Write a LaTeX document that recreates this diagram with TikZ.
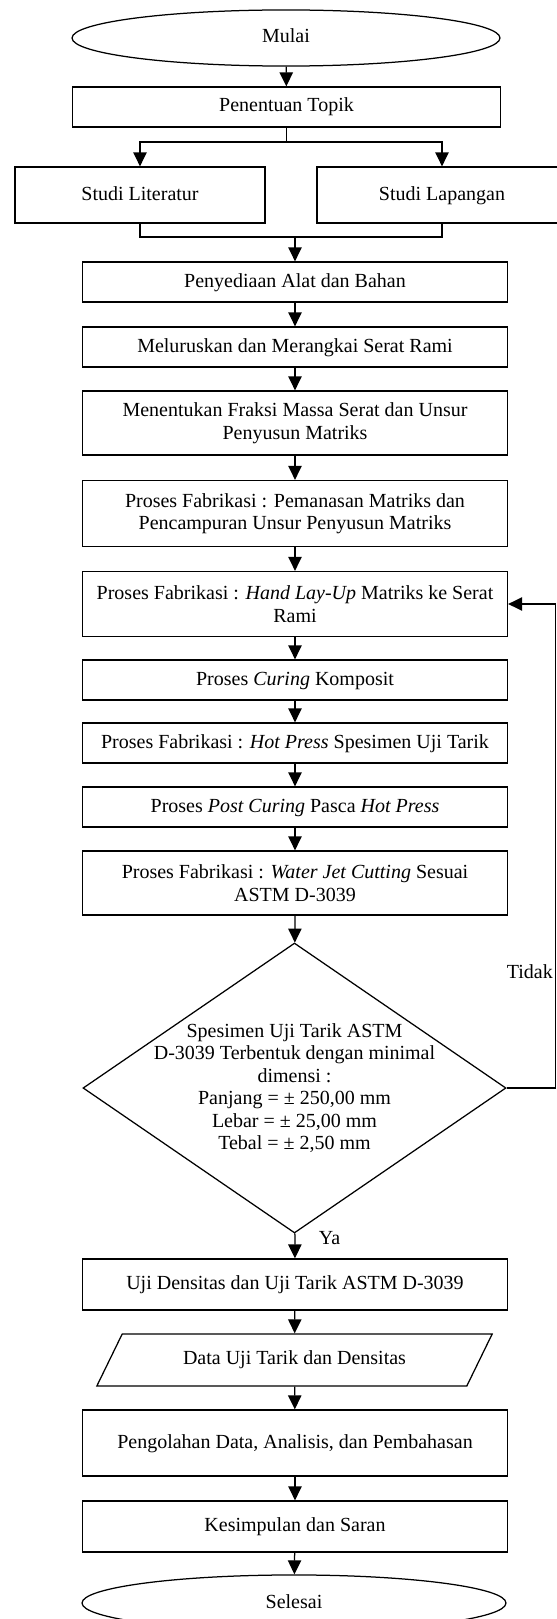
\documentclass[tikz,border=0pt]{standalone}
\usepackage{fontspec}
\setmainfont{Liberation Serif}
\usetikzlibrary{shapes.geometric,arrows.meta}

\begin{document}
\begin{tikzpicture}[x=0.6pt,y=-0.6pt]
        \tikzstyle{every node}=[font=\fontsize{12}{13.5}\selectfont, align=center]
        \tikzstyle{garis}=[line width=0.75pt]
        \tikzstyle{panah}=[garis, -{Triangle[width=8pt,length=8.4pt]}]
        \tikzstyle{kotak}=[draw, garis, rectangle, minimum width=255pt, minimum height=24pt, inner sep=1pt]
        \tikzstyle{sebaris}=[text height=8.5pt, text depth=2.5pt]
        \tikzstyle{elips}=[draw, garis, ellipse, sebaris, minimum width=256.8pt, minimum height=33.6pt, inner xsep=1pt, inner ysep=6.4pt]
        \tikzstyle{keputusan}=[draw, garis, diamond, minimum width=253.8pt, minimum height=174pt, inner sep=-25pt]
        \tikzstyle{masukan}=[draw, garis, trapezium, trapezium left angle=64, trapezium right angle=116, trapezium stretches body=true, minimum width=237.2pt, text height=8.5pt, text depth=2.6pt, inner xsep=1pt, inner ysep=10.05pt]
        \useasboundingbox (0,0) rectangle (557,1619);
        % bagian awal
        \node[elips] (mulai) at (286,38) {Mulai};
        \node[kotak, sebaris, minimum width=256.8pt] (topik) at (286.5,107) {Penentuan Topik};
        \node[kotak, sebaris, minimum width=150pt, minimum height=33.6pt] (lit) at (140,195) {Studi Literatur};
        \node[kotak, sebaris, minimum width=150pt, minimum height=33.6pt] (lap) at (442,195) {Studi Lapangan};
        \coordinate (cabang) at (286.5,142);
        \coordinate (gabung) at (295,237);
        % proses
        \node[kotak, sebaris] (alat) at (295,282) {Penyediaan Alat dan Bahan};
        \node[kotak, sebaris] (lurus) at (295,347) {Meluruskan dan Merangkai Serat Rami};
        \node[kotak, minimum height=38.4pt] (fraksi) at (295,423) {Menentukan Fraksi Massa Serat dan Unsur\\Penyusun Matriks};
        \node[kotak, minimum height=39.6pt] (panas) at (295,513.5) {Proses Fabrikasi : Pemanasan Matriks dan\\Pencampuran Unsur Penyusun Matriks};
        \node[kotak, minimum height=39pt] (layup) at (295,604) {Proses Fabrikasi : \textit{Hand Lay-Up} Matriks ke Serat\\Rami};
        \node[kotak, sebaris] (curing) at (295,680) {Proses \textit{Curing} Komposit};
        \node[kotak, sebaris] (press) at (295,743) {Proses Fabrikasi : \textit{Hot Press} Spesimen Uji Tarik};
        \node[kotak, sebaris] (pasca) at (295,807) {Proses \textit{Post Curing} Pasca \textit{Hot Press}};
        \node[kotak, minimum height=38.4pt] (potong) at (295,883) {Proses Fabrikasi : \textit{Water Jet Cutting} Sesuai\\ASTM D-3039};
        \node[keputusan] (cek) at (294.5,1088) {Spesimen Uji Tarik ASTM\\D-3039 Terbentuk dengan minimal\\dimensi :\\Panjang = ± 250,00 mm\\Lebar = ± 25,00 mm\\Tebal = ± 2,50 mm};
        \coordinate (balik) at (555.5,1088);
        % hasil
        \node[kotak, sebaris, minimum height=30.6pt] (uji) at (295,1284.5) {Uji Densitas dan Uji Tarik ASTM D-3039};
        \node[masukan] (data) at (294.5,1360) {Data Uji Tarik dan Densitas};
        \node[kotak, sebaris, minimum height=39.6pt] (olah) at (295,1443) {Pengolahan Data, Analisis, dan Pembahasan};
        \node[kotak, sebaris, minimum height=30.6pt] (simpul) at (295,1526.5) {Kesimpulan dan Saran};
        \node[elips, minimum width=254.4pt] (selesai) at (294,1603) {Selesai};
        \node[anchor=west] (tidak) at (501,972) {Tidak};
        \node[anchor=west] (ya) at (313,1238) {Ya};
        % konektor
        \draw[panah] (mulai) -- (topik);
        \draw[garis] (topik) -- (cabang);
        \draw[panah] (cabang) -| (lit);
        \draw[panah] (cabang) -| (lap);
        \draw[garis] (lit) |- (gabung);
        \draw[garis] (lap) |- (gabung);
        \draw[panah] (gabung) -- (alat);
        \foreach \a/\b in {alat/lurus, lurus/fraksi, fraksi/panas, panas/layup, layup/curing, curing/press, press/pasca, pasca/potong, potong/cek, cek/uji, uji/data, data/olah, olah/simpul, simpul/selesai}
            \draw[panah] (\a) -- (\b);
        \draw[panah] (cek.east) -- (balik) |- (layup.east);
    \end{tikzpicture}
\end{document}
